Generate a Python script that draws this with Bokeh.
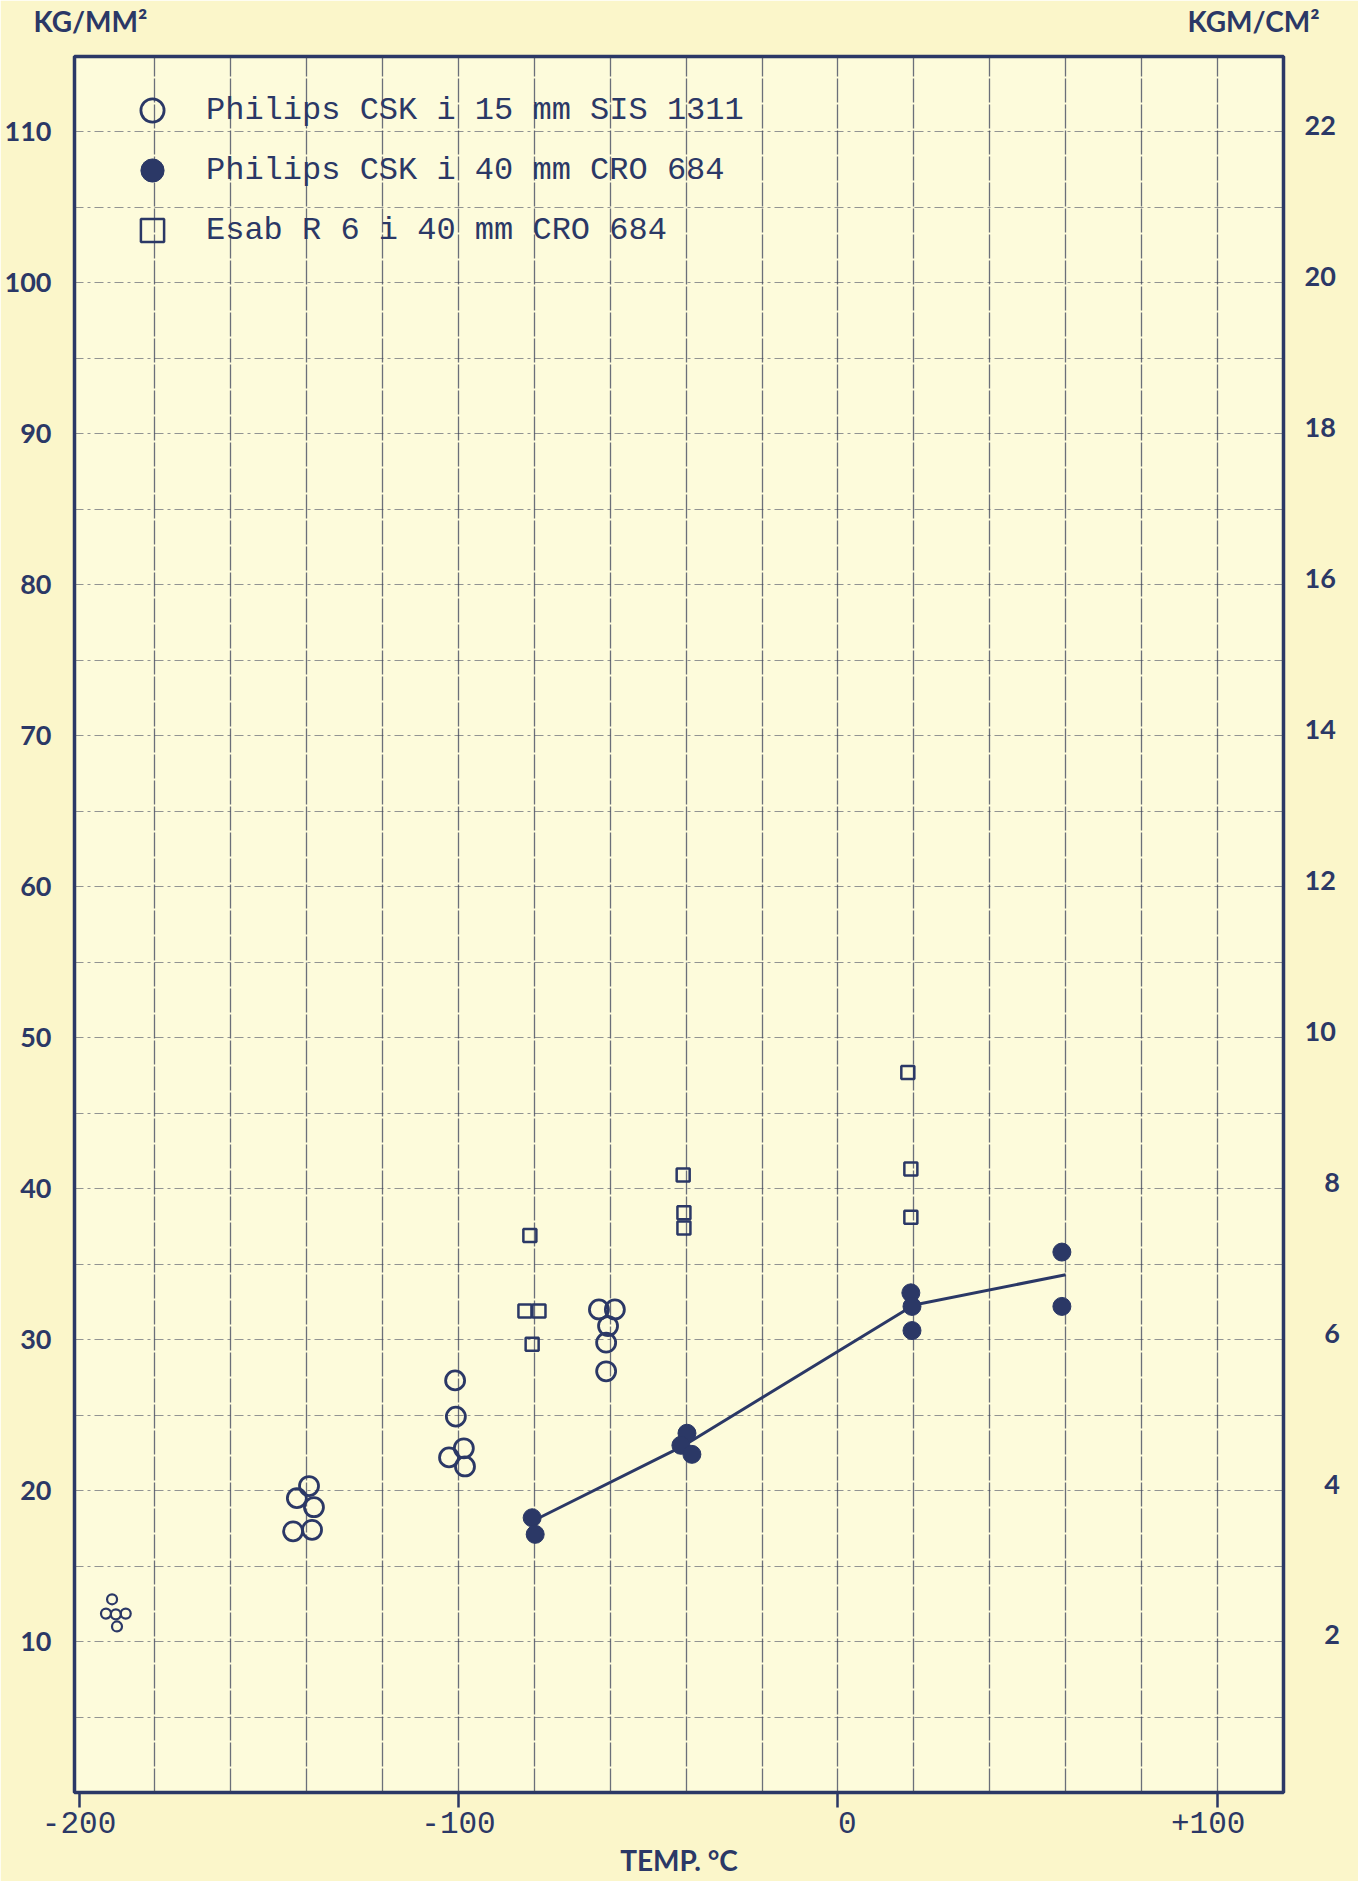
from bokeh.plotting import figure
from bokeh.models import (FixedTicker, LinearAxis, Range1d, Legend, LegendItem)
from bokeh.embed import file_html
from bokeh.resources import INLINE

# ---------------- data ----------------
# Philips CSK i 15 mm SIS 1311 (open circles); the -190 group is drawn smaller
open_small_temp = [-191.3, -192.9, -190.3, -187.7, -190.0]
open_small_val = [12.8, 11.85, 11.8, 11.85, 11.0]
open_temp = [-139.4, -142.6, -138.1, -143.6, -138.6,
             -100.9, -100.7, -102.5, -98.6, -98.3,
             -63.0, -58.8, -60.6, -61.1, -61.1]
open_val = [20.3, 19.5, 18.9, 17.3, 17.4,
            27.3, 24.9, 22.2, 22.8, 21.6,
            32.0, 32.0, 30.9, 29.8, 27.9]

# Philips CSK i 40 mm CRO 684 (filled circles)
filled_temp = [-80.6, -79.8, -39.8, -41.4, -38.5, 19.2, 19.5, 19.5, 59.0, 59.0]
filled_val = [18.2, 17.1, 23.8, 23.0, 22.4, 33.1, 32.2, 30.6, 35.8, 32.2]

# Esab R 6 i 40 mm CRO 684 (open squares)
square_temp = [-81.2, -82.5, -78.8, -80.6, -40.8, -40.6, -40.6, 18.4, 19.2, 19.2]
square_val = [36.9, 31.9, 31.9, 29.7, 40.9, 38.4, 37.4, 47.7, 41.3, 38.1]

# hand-drawn trend line through the filled circles
trend_temp = [-79.5, -40.5, 20.0, 60.0]
trend_val = [18.1, 23.0, 32.3, 34.3]

legend_labels = ["Philips CSK i 15 mm SIS 1311",
                 "Philips CSK i 40 mm CRO 684",
                 "Esab R 6 i 40 mm CRO 684"]

x_ticks = [-200, -100, 0, 100]
x_tick_labels = {-200: "-200", -100: "-100", 0: "\u00a00", 100: "+100\u00a0"}
x_grid = [-180, -160, -140, -120, -100, -80, -60, -40, -20, 0, 20, 40, 60, 80, 100]
kg_ticks = [10, 20, 30, 40, 50, 60, 70, 80, 90, 100, 110]
kg_grid = [5, 10, 15, 20, 25, 30, 35, 40, 45, 50, 55, 60, 65, 70, 75, 80, 85,
           90, 95, 100, 105, 110]
kgm_ticks = [2, 4, 6, 8, 10, 12, 14, 16, 18, 20, 22]
kgm_tick_labels = {2: "\u00a0\u00a0\u00a02", 4: "\u00a0\u00a0\u00a04",
                   6: "\u00a0\u00a0\u00a06", 8: "\u00a0\u00a0\u00a08"}

# unit captions, carried by an axis along the top edge
unit_positions = [-197.0, 109.5]
unit_labels = {-197.0: "KG/MM\u00b2", 109.5: "KGM/CM\u00b2"}
x_title = "TEMP. \u00b0C"

# ---------------- styling ----------------
INK = "#2b3866"
GRID = "#3a4058"
SANS = "Lato"
MONO = "Liberation Mono"

p = figure(width=1358, height=1881,
           x_range=Range1d(-201.2, 117.4), y_range=Range1d(0, 115),
           output_backend="svg", toolbar_location=None, title=None,
           min_border_left=74, min_border_right=75,
           min_border_top=56, min_border_bottom=89)

p.background_fill_color = "#fdfbdb"
p.border_fill_color = "#fbf6ca"
p.outline_line_color = INK
p.outline_line_width = 3.5

# grids
p.xgrid.ticker = FixedTicker(ticks=x_grid)
p.ygrid.ticker = FixedTicker(ticks=kg_grid)
p.xgrid.grid_line_color = GRID
p.xgrid.grid_line_alpha = 0.75
p.xgrid.grid_line_width = 1.3
p.xgrid.grid_line_dash = "24 2"
p.ygrid.grid_line_color = GRID
p.ygrid.grid_line_alpha = 0.55
p.ygrid.grid_line_width = 1.2
p.ygrid.grid_line_dash = "9 4 3 4"

# bottom axis
xa = p.xaxis[0]
xa.ticker = FixedTicker(ticks=x_ticks)
xa.major_label_overrides = x_tick_labels
xa.axis_line_color = None
xa.major_tick_in = 0
xa.major_tick_out = 15
xa.major_tick_line_color = INK
xa.major_tick_line_width = 2.5
xa.minor_tick_line_color = None
xa.major_label_standoff = -1
xa.major_label_text_font = MONO
xa.major_label_text_font_size = "31px"
xa.major_label_text_color = INK
xa.axis_label = x_title
xa.axis_label_standoff = -2
xa.axis_label_text_font = SANS
xa.axis_label_text_font_style = "bold"
xa.axis_label_text_font_size = "28px"
xa.axis_label_text_color = INK

# left axis
ya = p.yaxis[0]
ya.ticker = FixedTicker(ticks=kg_ticks)
ya.axis_line_color = None
ya.major_tick_line_color = None
ya.minor_tick_line_color = None
ya.major_label_standoff = 17
ya.major_label_text_font = SANS
ya.major_label_text_font_style = "bold"
ya.major_label_text_font_size = "27px"
ya.major_label_text_color = INK

# right axis (KGM/CM2 = KG/MM2 / 5)
p.extra_y_ranges = {"kgm": Range1d(-0.1, 22.9)}
ra = LinearAxis(y_range_name="kgm", ticker=FixedTicker(ticks=kgm_ticks))
ra.major_label_overrides = kgm_tick_labels
ra.axis_line_color = None
ra.major_tick_line_color = None
ra.minor_tick_line_color = None
ra.major_label_standoff = 15
ra.major_label_text_font = SANS
ra.major_label_text_font_style = "bold"
ra.major_label_text_font_size = "27px"
ra.major_label_text_color = INK
p.add_layout(ra, "right")

# top axis carrying the two unit captions
ta = LinearAxis(ticker=FixedTicker(ticks=unit_positions))
ta.major_label_overrides = unit_labels
ta.axis_line_color = None
ta.major_tick_line_color = None
ta.minor_tick_line_color = None
ta.major_label_standoff = 13
ta.major_label_text_font = SANS
ta.major_label_text_font_style = "bold"
ta.major_label_text_font_size = "28px"
ta.major_label_text_color = INK
p.add_layout(ta, "above")

# ---------------- marks ----------------
p.scatter(open_small_temp, open_small_val, marker="circle", size=10,
          fill_color=None, line_color=INK, line_width=2.2)
r_open = p.scatter(open_temp, open_val, marker="circle", size=19,
                   fill_color=None, line_color=INK, line_width=2.8)
r_square = p.scatter(square_temp, square_val, marker="square", size=13,
                     fill_color=None, line_color=INK, line_width=2.5)
p.line(trend_temp, trend_val, line_width=3, line_color=INK)
r_filled = p.scatter(filled_temp, filled_val, marker="circle", size=18,
                     fill_color=INK, line_color=INK, line_width=1)

legend = Legend(items=[LegendItem(label=legend_labels[0], renderers=[r_open]),
                       LegendItem(label=legend_labels[1], renderers=[r_filled]),
                       LegendItem(label=legend_labels[2], renderers=[r_square])],
                location=(49, 1533), orientation="vertical",
                glyph_width=58, glyph_height=58, label_standoff=25,
                padding=0, margin=0, spacing=2,
                border_line_alpha=0, background_fill_alpha=0,
                label_text_font=MONO, label_text_font_size="32px",
                label_text_color=INK)
p.add_layout(legend)

open("out.html", "w").write(file_html(p, INLINE))
